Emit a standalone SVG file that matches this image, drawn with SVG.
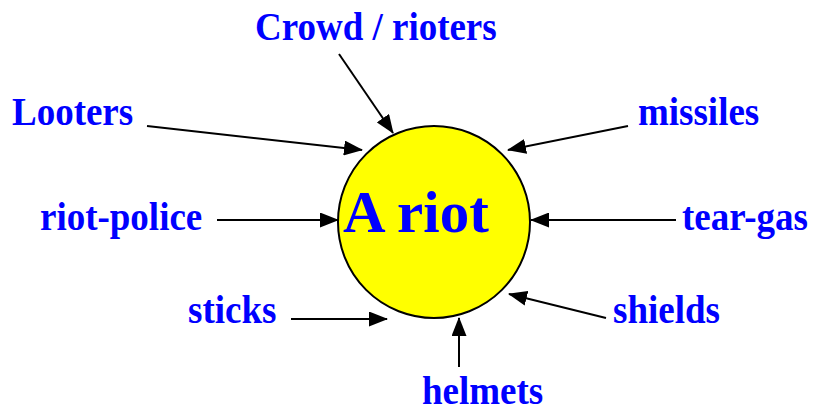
<svg xmlns="http://www.w3.org/2000/svg" width="813" height="412" viewBox="0 0 813 412">
<style>
.lbl{font-family:"Liberation Serif","Times New Roman",serif;font-weight:bold;font-size:37px;fill:#0000ff}
.big{font-family:"Liberation Serif","Times New Roman",serif;font-weight:bold;font-size:59px;fill:#0000ff}
.c{stroke:#000;stroke-width:2;fill:none;marker-end:url(#ah)}
</style>
<defs>
<marker id="ah" markerUnits="userSpaceOnUse" markerWidth="19" markerHeight="15" refX="18" refY="7.5" orient="auto" viewBox="0 0 19 15">
<path d="M0,0 L19,7.5 L0,15 Z" fill="#000"/>
</marker>
</defs>
<rect width="813" height="412" fill="#fff"/>
<g id="connectors">
<line class="c" x1="339" y1="54" x2="393" y2="133"/>
<line class="c" x1="147" y1="126" x2="362" y2="150"/>
<line class="c" x1="628" y1="126" x2="508" y2="150"/>
<line class="c" x1="217" y1="220" x2="338" y2="220"/>
<line class="c" x1="676" y1="220" x2="531" y2="220"/>
<line class="c" x1="291" y1="319" x2="387" y2="319"/>
<line class="c" x1="606" y1="318" x2="509" y2="294"/>
<line class="c" x1="459" y1="367" x2="459" y2="318"/>
</g>
<g id="riot">
<circle cx="434" cy="222" r="96" fill="#ffff00" stroke="#000" stroke-width="2"/>
<text class="big" x="343" y="232">A riot</text>
</g>
<g id="crowd"><text class="lbl" x="255" y="40" transform="translate(0,40) scale(1,1.07) translate(0,-40)">Crowd / rioters</text></g>
<g id="looters"><text class="lbl" x="12" y="125" transform="translate(0,125) scale(1,1.07) translate(0,-125)">Looters</text></g>
<g id="missiles"><text class="lbl" x="638" y="125" transform="translate(0,125) scale(1,1.07) translate(0,-125)">missiles</text></g>
<g id="riot-police"><text class="lbl" x="40" y="230" transform="translate(0,230) scale(1,1.07) translate(0,-230)">riot-police</text></g>
<g id="tear-gas"><text class="lbl" x="682" y="230" transform="translate(0,230) scale(1,1.07) translate(0,-230)">tear-gas</text></g>
<g id="sticks"><text class="lbl" x="188" y="323" transform="translate(0,323) scale(1,1.07) translate(0,-323)">sticks</text></g>
<g id="shields"><text class="lbl" x="613" y="323" transform="translate(0,323) scale(1,1.07) translate(0,-323)">shields</text></g>
<g id="helmets"><text class="lbl" x="422" y="404" transform="translate(0,404) scale(1,1.07) translate(0,-404)">helmets</text></g>
</svg>
